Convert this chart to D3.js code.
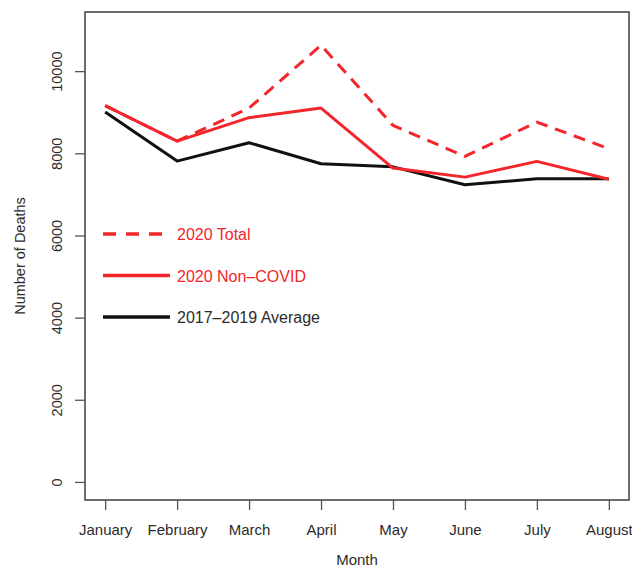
<!DOCTYPE html>
<html>
<head>
<meta charset="utf-8">
<script src="https://cdn.jsdelivr.net/npm/d3@7"></script>
<style>
  body { margin: 0; background: #fff; }
  text { font-family: "Liberation Sans", Arial, Helvetica, sans-serif; fill: #2b2b2b; }
</style>
</head>
<body>
<div id="chart"></div>
<script>
const months = ["January", "February", "March", "April", "May", "June", "July", "August"];
const total2020 = [9160, 8297, 9100, 10630, 8680, 7924, 8760, 8112];
const nonCovid2020 = [9160, 8297, 8867, 9101, 7640, 7420, 7803, 7370];
const avg2017to2019 = [9004, 7810, 8258, 7746, 7670, 7235, 7381, 7381];
const yTicks = [0, 2000, 4000, 6000, 8000, 10000];
const legendLabels = ["2020 Total", "2020 Non\u2013COVID", "2017\u20132019 Average"];

const W = 632, H = 570;
const box = { left: 85, right: 629, top: 12, bottom: 500 };
const red = "#f2262b";

const svg = d3.select("#chart").append("svg")
    .attr("width", W)
    .attr("height", H);

// R style: 4% padding around the ranges
const x = d3.scaleLinear().domain([0.72, 8.28]).range([box.left, box.right]);
const y = d3.scaleLinear().domain([-440, 11440]).range([box.bottom, box.top]);

// axes
const xAxis = svg.append("g")
    .attr("transform", `translate(0,${box.bottom})`)
    .call(d3.axisBottom(x).tickValues(d3.range(1, 9)).tickSize(10).tickPadding(14)
        .tickFormat(i => months[i - 1]));
xAxis.select(".domain").remove();
xAxis.selectAll("line").attr("stroke", "#555").attr("stroke-width", 1.3);
xAxis.selectAll("text").style("font-size", "15px").attr("fill", "#2b2b2b");

const yAxis = svg.append("g")
    .attr("transform", `translate(${box.left},0)`)
    .call(d3.axisLeft(y).tickValues(yTicks).tickSize(10).tickFormat(d3.format("d")));
yAxis.select(".domain").remove();
yAxis.selectAll("line").attr("stroke", "#555").attr("stroke-width", 1.3);
yAxis.selectAll("text")
    .style("font-size", "14.5px")
    .attr("fill", "#2b2b2b")
    .attr("x", 0).attr("dy", 0)
    .attr("text-anchor", "middle")
    .attr("transform", "translate(-23,0) rotate(-90)");

// plot box
svg.append("rect")
    .attr("x", box.left).attr("y", box.top)
    .attr("width", box.right - box.left).attr("height", box.bottom - box.top)
    .attr("fill", "none").attr("stroke", "#4a4a4a").attr("stroke-width", 1.6);

// axis titles
svg.append("text")
    .attr("x", (box.left + box.right) / 2).attr("y", 565)
    .attr("text-anchor", "middle").style("font-size", "15px")
    .text("Month");
svg.append("text")
    .attr("transform", `translate(25,${(box.top + box.bottom) / 2}) rotate(-90)`)
    .attr("text-anchor", "middle").style("font-size", "14.5px")
    .text("Number of Deaths");

// lines
const line = d3.line()
    .x((d, i) => x(i + 1))
    .y(d => y(d));

const series = [
    { values: total2020, color: red, dash: "12,8" },
    { values: nonCovid2020, color: red, dash: null },
    { values: avg2017to2019, color: "#111", dash: null }
];

series.slice().reverse().forEach(s => {
    svg.append("path")
        .datum(s.values)
        .attr("d", line)
        .attr("fill", "none")
        .attr("stroke", s.color)
        .attr("stroke-width", 3)
        .attr("stroke-linejoin", "round")
        .attr("stroke-dasharray", s.dash);
});

// legend
const legend = svg.append("g");
series.forEach((s, i) => {
    const ly = 234 + i * 41.5;
    legend.append("line")
        .attr("x1", 103).attr("x2", 170)
        .attr("y1", ly).attr("y2", ly)
        .attr("stroke", s.color).attr("stroke-width", 3.5)
        .attr("stroke-dasharray", s.dash ? "13,10" : null);
    legend.append("text")
        .attr("x", 177).attr("y", ly + 6)
        .style("font-size", "16px")
        .style("fill", i < 2 ? red : "#2b2b2b")
        .text(legendLabels[i]);
});
</script>
</body>
</html>
